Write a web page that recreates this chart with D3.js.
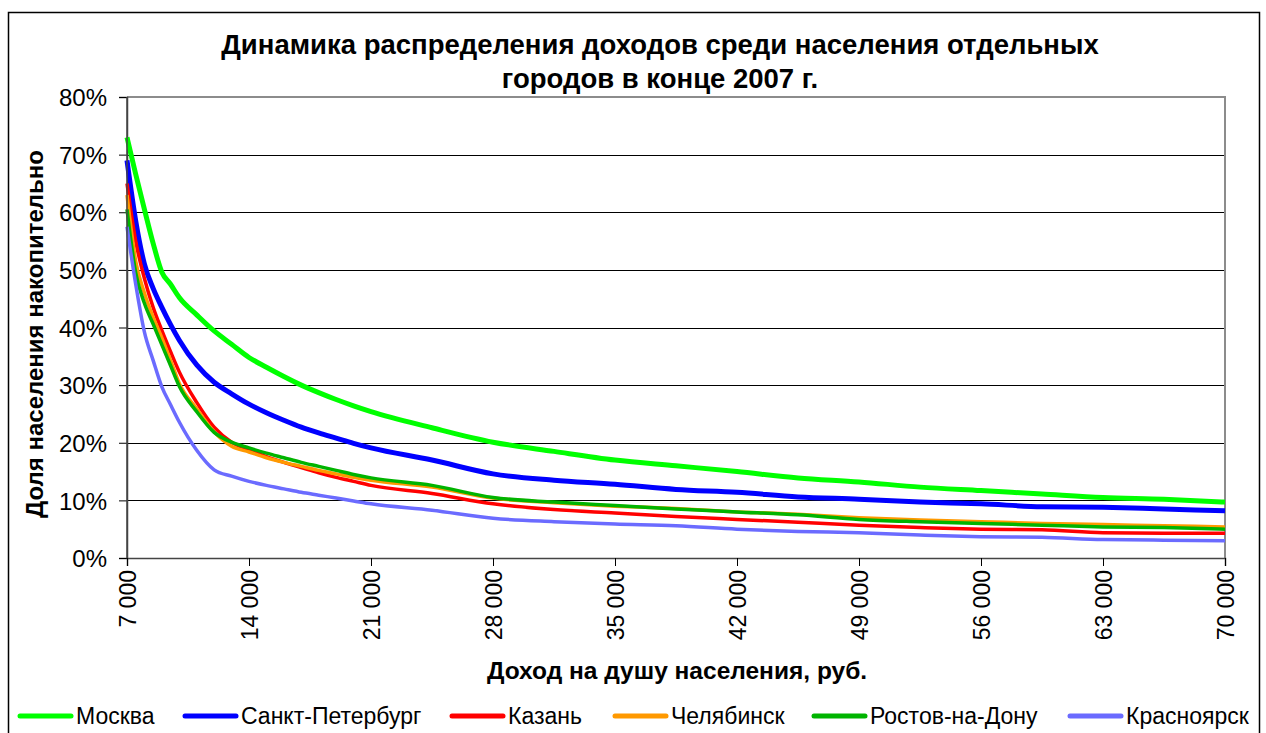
<!DOCTYPE html>
<html>
<head>
<meta charset="utf-8">
<script src="https://cdn.jsdelivr.net/npm/d3@7"></script>
<style>
  body { margin: 0; background: #fff; }
  text { font-family: "Liberation Sans", Arial, sans-serif; }
</style>
</head>
<body>
<script>
"use strict";

// data: income per capita (rub.) and cumulative population share (%)
const incomes = [7000, 7500, 8000, 8500, 9000, 9500, 10000, 11000, 12000, 13000,
    14000, 15000, 16000, 17000, 18000, 19000, 20000, 21000, 24500, 28000,
    31500, 35000, 38500, 42000, 45500, 49000, 52500, 56000, 59500, 63000, 66500, 70000];

const moscow = [73, 66.6, 60.5, 54.6, 49.6, 47.5, 45.2, 42.2, 39.4, 37.1,
    34.8, 33.1, 31.5, 30.0, 28.7, 27.5, 26.4, 25.4, 22.6, 20.1,
    18.5, 17.0, 16.0, 15.0, 13.9, 13.2, 12.3, 11.7, 11.1, 10.5, 10.2, 9.7];
const spb = [69, 58.5, 51.0, 46.8, 43.5, 40.5, 37.8, 33.5, 30.5, 28.5,
    26.7, 25.2, 23.9, 22.7, 21.7, 20.8, 19.9, 19.1, 17.0, 14.6,
    13.5, 12.8, 11.9, 11.4, 10.6, 10.2, 9.7, 9.4, 8.9, 8.8, 8.5, 8.2];
const kazan = [65, 55.0, 48.5, 43.5, 39.5, 35.8, 32.3, 27.0, 22.7, 20.1,
    18.8, 17.6, 16.6, 15.7, 14.8, 14.0, 13.3, 12.6, 11.2, 9.4,
    8.4, 7.8, 7.2, 6.7, 6.2, 5.7, 5.3, 5.0, 4.9, 4.4, 4.3, 4.3];
const chelyabinsk = [63, 51.5, 46.0, 41.8, 38.2, 34.3, 30.3, 25.9, 21.9, 19.4,
    18.4, 17.4, 16.6, 15.9, 15.2, 14.6, 14.0, 13.5, 12.3, 10.4,
    9.6, 9.0, 8.6, 8.0, 7.6, 7.0, 6.6, 6.3, 6.0, 5.8, 5.6, 5.4];
const rostov = [60.5, 49.5, 44.2, 40.6, 37.0, 33.4, 29.8, 25.4, 21.8, 20.1,
    19.1, 18.2, 17.4, 16.6, 15.9, 15.2, 14.5, 13.9, 12.6, 10.5,
    9.7, 9.1, 8.5, 8.0, 7.5, 6.7, 6.3, 6.0, 5.7, 5.4, 5.3, 5.0];
const krasnoyarsk = [57.5, 47.5, 39.2, 34.3, 29.7, 26.6, 23.6, 18.7, 15.3, 14.2,
    13.3, 12.6, 12.0, 11.4, 10.9, 10.4, 9.9, 9.4, 8.3, 6.9,
    6.3, 5.9, 5.6, 5.0, 4.6, 4.4, 4.0, 3.7, 3.6, 3.2, 3.1, 3.0];

const seriesNames = ['Москва', 'Санкт-Петербург', 'Казань', 'Челябинск', 'Ростов-на-Дону', 'Красноярск'];
const seriesValues = [moscow, spb, kazan, chelyabinsk, rostov, krasnoyarsk];
const seriesColors = ['#00ff00', '#0000ff', '#ff0000', '#ff9900', '#00b400', '#6b6bff'];
const seriesWidths = [5, 5, 3.5, 3.5, 3.5, 3.5];

const xTicks = [7000, 14000, 21000, 28000, 35000, 42000, 49000, 56000, 63000, 70000];
const yTicks = [0, 10, 20, 30, 40, 50, 60, 70, 80];

const titleLines = ['Динамика распределения доходов среди населения отдельных', 'городов в конце 2007 г.'];
const xTitle = 'Доход на душу населения, руб.';
const yTitle = 'Доля населения накопительно';

// layout
const W = 1266, H = 733;
const plot = {left: 127, right: 1225, top: 97, bottom: 558};

const svg = d3.select('body').append('svg')
    .attr('width', W)
    .attr('height', H);

// outer frame
svg.append('rect')
    .attr('x', 8.5).attr('y', 12.5)
    .attr('width', 1251).attr('height', 740)
    .attr('fill', 'none')
    .attr('stroke', '#000')
    .attr('stroke-width', 1.5);

const x = d3.scaleLinear().domain([7000, 70000]).range([plot.left, plot.right]);
const y = d3.scaleLinear().domain([0, 80]).range([plot.bottom, plot.top]);

// gridlines
svg.append('g')
    .selectAll('line')
    .data(yTicks.filter(d => d > 0 && d < 80))
    .enter()
    .append('line')
    .attr('x1', plot.left).attr('x2', plot.right)
    .attr('y1', d => Math.round(y(d)) + 0.5).attr('y2', d => Math.round(y(d)) + 0.5)
    .attr('stroke', '#000')
    .attr('stroke-width', 1);

// plot border top / right
svg.append('path')
    .attr('d', `M${plot.left},${plot.top}H${plot.right}V${plot.bottom}`)
    .attr('fill', 'none')
    .attr('stroke', '#8c8c8c')
    .attr('stroke-width', 2);

// y axis
const fmtNum = d => d3.format(',')(d).replace(/,/g, ' ');
const yAxis = d3.axisLeft(y)
    .tickValues(yTicks)
    .tickSize(8)
    .tickPadding(12)
    .tickFormat(d => d + '%');
const gy = svg.append('g')
    .attr('transform', `translate(${plot.left},0)`)
    .call(yAxis);
gy.select('.domain').attr('stroke', '#444').attr('stroke-width', 1.5);
gy.selectAll('.tick line').attr('stroke', '#000');
gy.selectAll('.tick text')
    .attr('fill', '#000')
    .style('font-size', '24px')
    .attr('dy', '0.36em');

// x axis
const xAxis = d3.axisBottom(x)
    .tickValues(xTicks)
    .tickSize(8)
    .tickFormat(fmtNum);
const gx = svg.append('g')
    .attr('transform', `translate(0,${plot.bottom})`)
    .call(xAxis);
gx.select('.domain').attr('stroke', '#444').attr('stroke-width', 1.5);
gx.selectAll('.tick line').attr('stroke', '#000');
gx.selectAll('.tick text')
    .attr('fill', '#000')
    .style('font-size', '23px')
    .attr('transform', 'rotate(-90)')
    .attr('text-anchor', 'end')
    .attr('x', -12)
    .attr('y', 0)
    .attr('dy', '0.36em');

// series lines
const line = d3.line()
    .x((d, i) => x(incomes[i]))
    .y(d => y(d))
    .curve(d3.curveMonotoneX);

svg.append('g')
    .selectAll('path')
    .data(seriesValues)
    .enter()
    .append('path')
    .attr('d', line)
    .attr('fill', 'none')
    .attr('stroke', (d, i) => seriesColors[i])
    .attr('stroke-width', (d, i) => seriesWidths[i])
    .attr('stroke-linejoin', 'round');

// redraw left axis line over series
svg.append('line')
    .attr('x1', plot.left).attr('x2', plot.left)
    .attr('y1', plot.top).attr('y2', plot.bottom)
    .attr('stroke', '#444').attr('stroke-width', 1.5);

// titles
svg.append('g')
    .selectAll('text')
    .data(titleLines)
    .enter()
    .append('text')
    .attr('x', 660)
    .attr('y', (d, i) => 54 + i * 34)
    .attr('text-anchor', 'middle')
    .style('font-size', '27.5px')
    .style('font-weight', 'bold')
    .text(d => d);

svg.append('text')
    .attr('x', 677)
    .attr('y', 679)
    .attr('text-anchor', 'middle')
    .style('font-size', '24.5px')
    .style('font-weight', 'bold')
    .text(xTitle);

svg.append('text')
    .attr('transform', `translate(43,334) rotate(-90)`)
    .attr('text-anchor', 'middle')
    .style('font-size', '24px')
    .style('font-weight', 'bold')
    .text(yTitle);

// legend
const legendX = [18, 183, 450, 613, 812, 1068];
const legendY = 716;
const lg = svg.append('g')
    .selectAll('g')
    .data(seriesNames)
    .enter()
    .append('g')
    .attr('transform', (d, i) => `translate(${legendX[i]},${legendY})`);
lg.append('line')
    .attr('x1', 2).attr('x2', 53)
    .attr('y1', 0).attr('y2', 0)
    .attr('stroke', (d, i) => seriesColors[i])
    .attr('stroke-width', 5)
    .attr('stroke-linecap', 'round');
lg.append('text')
    .attr('x', 58)
    .attr('y', 0)
    .attr('dy', '0.36em')
    .style('font-size', '23px')
    .text(d => d);
</script>
</body>
</html>
